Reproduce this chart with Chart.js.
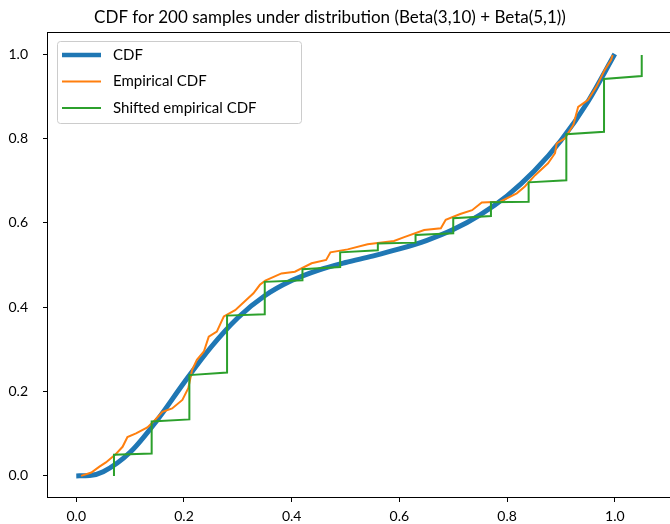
<!DOCTYPE html>
<html>
<head>
<meta charset="utf-8">
<script src="https://cdn.jsdelivr.net/npm/chart.js@4.4.1/dist/chart.umd.min.js"></script>
<style>
  html, body { margin: 0; padding: 0; background: #fff; }
  #wrap { width: 670px; height: 524px; }
</style>
</head>
<body>
<div id="wrap"><canvas id="cdfChart" width="670" height="524"></canvas></div>
<script>
// Texts and ticks
const chartTitle = 'CDF for 200 samples under distribution (Beta(3,10) + Beta(5,1))';
const seriesNames = ['CDF', 'Empirical CDF', 'Shifted empirical CDF'];
const xTicks = [0.0, 0.2, 0.4, 0.6, 0.8, 1.0];
const yTicks = [0.0, 0.2, 0.4, 0.6, 0.8, 1.0];

// True CDF
const cdfX = [0, 0.025, 0.05, 0.1, 0.15, 0.2, 0.25, 0.3, 0.35, 0.4, 0.45, 0.5, 0.55, 0.6, 0.65, 0.7, 0.75, 0.8, 0.85, 0.9, 0.95, 1.0];
const cdfY = [0, 0.001, 0.010, 0.056, 0.132, 0.221, 0.305, 0.375, 0.427, 0.463, 0.488, 0.506, 0.521, 0.538, 0.558, 0.584, 0.619, 0.664, 0.722, 0.795, 0.887, 1.0];

// Empirical CDF (orange)
const ecdfX = [0.009, 0.028, 0.043, 0.055, 0.072, 0.086, 0.095, 0.111, 0.132, 0.145, 0.160, 0.178, 0.197, 0.208, 0.215, 0.224, 0.237, 0.246, 0.261, 0.271,
  0.274, 0.295, 0.314, 0.329, 0.341, 0.351, 0.381, 0.406, 0.437, 0.464, 0.472, 0.504, 0.541, 0.590,
  0.609, 0.646, 0.677, 0.686, 0.713, 0.735, 0.753, 0.787, 0.818,
  0.833, 0.852, 0.876, 0.889, 0.892, 0.907, 0.923, 0.932, 0.950, 0.966, 0.981, 0.993, 0.996];
const ecdfY = [0.000, 0.008, 0.022, 0.032, 0.050, 0.069, 0.092, 0.101, 0.115, 0.131, 0.152, 0.160, 0.180, 0.208, 0.251, 0.275, 0.295, 0.330, 0.342, 0.370,
  0.378, 0.393, 0.415, 0.433, 0.453, 0.463, 0.480, 0.484, 0.504, 0.512, 0.530, 0.537, 0.549, 0.557,
  0.566, 0.583, 0.587, 0.607, 0.621, 0.630, 0.648, 0.650, 0.670,
  0.686, 0.713, 0.741, 0.765, 0.788, 0.800, 0.832, 0.875, 0.891, 0.923, 0.962, 0.986, 0.998];

// Shifted empirical CDF (green steps)
const shiftX = [0.07, 0.07, 0.14, 0.14, 0.21, 0.21, 0.28, 0.28, 0.35, 0.35, 0.42, 0.42, 0.49, 0.49, 0.56, 0.56,
  0.63, 0.63, 0.70, 0.70, 0.77, 0.77, 0.84, 0.84, 0.91, 0.91, 0.98, 0.98, 1.05, 1.05];
const shiftY = [0.000, 0.050, 0.053, 0.129, 0.134, 0.239, 0.245, 0.380, 0.383, 0.460, 0.464, 0.490, 0.495, 0.530, 0.535, 0.551,
  0.553, 0.571, 0.575, 0.611, 0.616, 0.649, 0.650, 0.696, 0.701, 0.810, 0.816, 0.941, 0.948, 0.998];

const colors = ['#1f77b4', '#ff7f0e', '#2ca02c'];
const FONT = 'Lato, "Open Sans", sans-serif';

function toPoints(xs, ys) {
    return xs.map((x, i) => ({ x: x, y: ys[i] }));
}

// Axes frame + title
const framePlugin = {
    id: 'frame',
    afterDraw(chart) {
        const { ctx, chartArea: a } = chart;
        ctx.save();
        ctx.strokeStyle = '#000';
        ctx.lineWidth = 1;
        ctx.strokeRect(a.left - 0.5, a.top - 0.5, a.right - a.left + 1, a.bottom - a.top + 1);
        ctx.fillStyle = '#000';
        ctx.font = '17px ' + FONT;
        ctx.textAlign = 'center';
        ctx.textBaseline = 'middle';
        ctx.fillText(chartTitle, 330, 18);
        ctx.restore();
    }
};

// matplotlib-like legend box
const legendPlugin = {
    id: 'boxLegend',
    afterDraw(chart) {
        const ctx = chart.ctx;
        const widths = [4.5, 2, 2];
        ctx.save();
        ctx.fillStyle = 'rgba(255,255,255,0.8)';
        ctx.strokeStyle = '#cccccc';
        ctx.lineWidth = 1;
        ctx.beginPath();
        ctx.roundRect(57.5, 41.5, 244, 82, 3);
        ctx.fill();
        ctx.stroke();
        ctx.font = '15px ' + FONT;
        ctx.textBaseline = 'middle';
        seriesNames.forEach((name, i) => {
            const y = 55 + i * 26.5;
            ctx.strokeStyle = colors[i];
            ctx.lineWidth = widths[i];
            ctx.beginPath();
            ctx.moveTo(62, y);
            ctx.lineTo(101, y);
            ctx.stroke();
            ctx.fillStyle = '#000';
            ctx.fillText(name, 113, y);
        });
        ctx.restore();
    }
};

function axisOpts(min, max, ticks, isX) {
    return {
        type: 'linear',
        min: min,
        max: max,
        afterBuildTicks: s => { s.ticks = ticks.map(v => ({ value: v })); },
        afterFit: s => {
            if (isX) s.height = 27; else s.width = 48;
        },
        grid: { drawOnChartArea: false, drawTicks: true, tickLength: 5, color: '#000' },
        border: { display: false },
        ticks: {
            color: '#000',
            font: { family: FONT, size: 14 },
            padding: isX ? 6 : 15,
            autoSkip: false,
            maxRotation: 0,
            callback: v => Number(v).toFixed(1)
        }
    };
}

const ctx = document.getElementById('cdfChart').getContext('2d');
new Chart(ctx, {
    type: 'line',
    data: {
        datasets: [
            {
                label: seriesNames[0],
                data: toPoints(cdfX, cdfY),
                borderColor: colors[0],
                borderWidth: 5,
                cubicInterpolationMode: 'monotone',
                pointRadius: 0,
                fill: false,
                order: 3
            },
            {
                label: seriesNames[1],
                data: toPoints(ecdfX, ecdfY),
                borderColor: colors[1],
                borderWidth: 2,
                tension: 0,
                pointRadius: 0,
                fill: false,
                order: 2
            },
            {
                label: seriesNames[2],
                data: toPoints(shiftX, shiftY),
                borderColor: colors[2],
                borderWidth: 2,
                tension: 0,
                pointRadius: 0,
                fill: false,
                order: 1
            }
        ]
    },
    options: {
        responsive: false,
        animation: false,
        devicePixelRatio: 1,
        layout: { padding: { top: 33, left: 0, right: 0, bottom: 0 } },
        plugins: {
            legend: { display: false },
            tooltip: { enabled: false },
            title: { display: false }
        },
        scales: {
            x: axisOpts(-0.0525, 1.1025, xTicks, true),
            y: axisOpts(-0.05, 1.05, yTicks, false)
        }
    },
    plugins: [framePlugin, legendPlugin]
});
</script>
</body>
</html>
